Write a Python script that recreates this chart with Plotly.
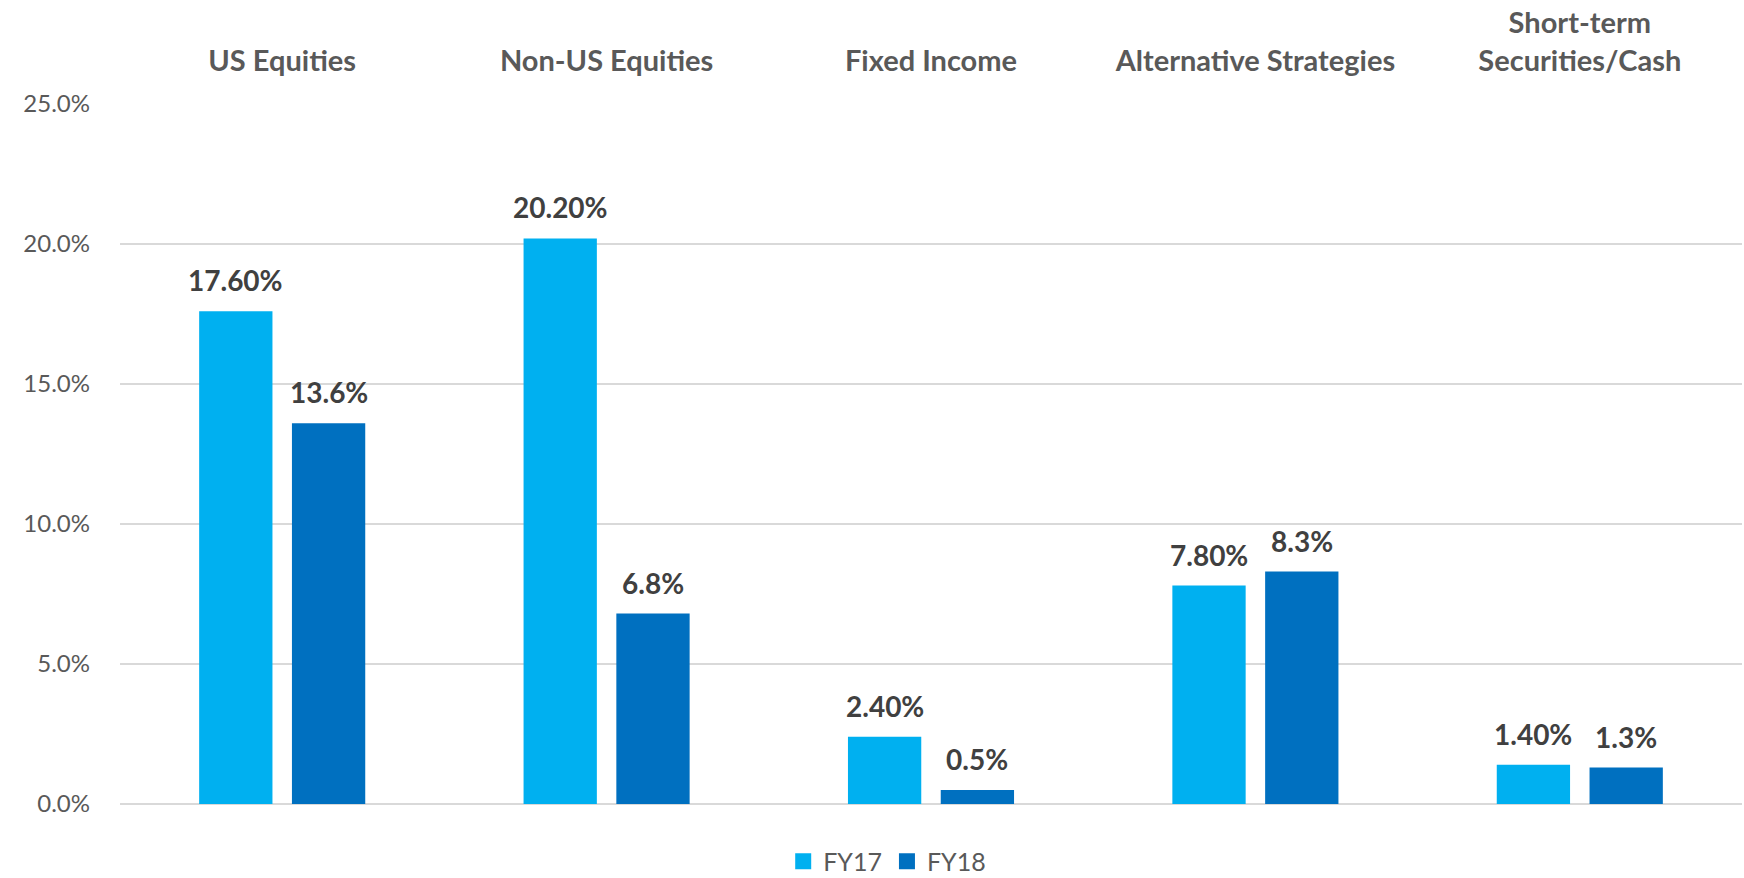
import plotly.graph_objects as go

categories = ["US Equities", "Non-US Equities", "Fixed Income", "Alternative Strategies", "Short-term<br>Securities/Cash"]
fy17 = [17.60, 20.20, 2.40, 7.80, 1.40]
fy18 = [13.6, 6.8, 0.5, 8.3, 1.3]
fy17_labels = ["17.60%", "20.20%", "2.40%", "7.80%", "1.40%"]
fy18_labels = ["13.6%", "6.8%", "0.5%", "8.3%", "1.3%"]
series_names = ["FY17", "FY18"]
colors = ["#00B0F0", "#0070C0"]

W, H = 1744, 878
ML, MR, MT, MB = 120, 2, 104, 74
FONT = "Lato"

fig = go.Figure()
for name, vals, col in zip(series_names, [fy17, fy18], colors):
    fig.add_trace(go.Bar(x=categories, y=vals, name=name, marker_color=col,
                         marker_line_width=0, showlegend=False))
    # legend-only marker
    fig.add_trace(go.Scatter(x=[None], y=[None], mode="markers", name=name,
                             marker=dict(symbol="square", size=16, color=col)))

annotations = []
slot_shift = 46.4
for labels, vals, sh in [(fy17_labels, fy17, -slot_shift), (fy18_labels, fy18, slot_shift)]:
    for c, v, t in zip(categories, vals, labels):
        annotations.append(dict(x=c, y=v, xref="x", yref="y", text=t, showarrow=False,
                                yanchor="bottom", xanchor="center", xshift=sh, yshift=12,
                                font=dict(family=FONT, size=28, color="#404040", weight="bold")))

fig.update_layout(
    width=W, height=H,
    margin=dict(l=ML, r=MR, t=MT, b=MB, autoexpand=False),
    paper_bgcolor="white", plot_bgcolor="white",
    barmode="group", bargap=0.428, bargroupgap=0.21,
    font=dict(family=FONT, color="#595959"),
    annotations=annotations,
    legend=dict(orientation="h", x=0.473, xanchor="center", y=-0.082, yanchor="middle",
                font=dict(family=FONT, size=25, color="#595959"), itemsizing="trace",
                bgcolor="rgba(0,0,0,0)"),
    xaxis=dict(side="top", showgrid=False, showline=False, zeroline=False, ticks="",
               tickfont=dict(family=FONT, size=29, color="#595959", weight="bold"),
               ticklabelstandoff=26, fixedrange=True),
    yaxis=dict(range=[0, 25], dtick=5, tick0=0, tickformat=".1f", ticksuffix="%",
               showgrid=True, gridcolor="#D9D9D9", gridwidth=2,
               zeroline=True, zerolinecolor="#D9D9D9", zerolinewidth=2,
               showline=False, ticks="", ticklabelstandoff=29, fixedrange=True,
               tickfont=dict(family=FONT, size=24, color="#595959")),
)

fig.write_html("out.html", config={"displayModeBar": False},
               post_script="document.body.style.margin='0';document.body.style.overflow='hidden';")
